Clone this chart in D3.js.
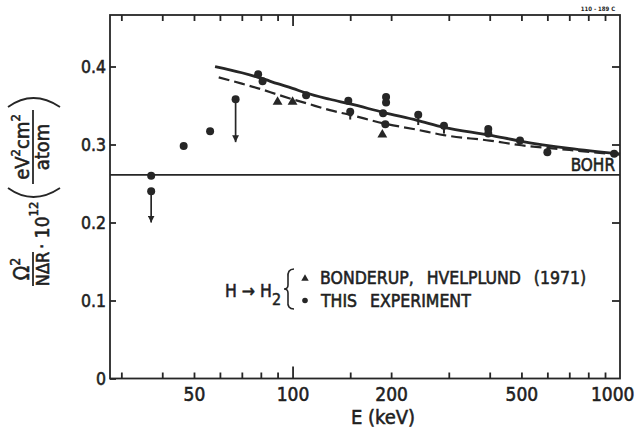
<!DOCTYPE html>
<html>
<head>
<meta charset="utf-8">
<script src="https://cdn.jsdelivr.net/npm/d3@7"></script>
<style>
  html, body { margin: 0; padding: 0; background: #fff; }
  svg text { font-family: "DejaVu Sans Condensed", "DejaVu Sans", sans-serif; font-stretch: condensed; fill: #1f1f1f; stroke: #1f1f1f; stroke-width: 0.55px; }
  .tk line { stroke: #262626; stroke-width: 1.8px; }
</style>
</head>
<body>
<svg id="chart" width="635" height="429"></svg>
<script>
// ---- data ----
const xTickValues = [50, 100, 200, 500, 1000];
const xMinorTicks = [30, 40, 50, 60, 70, 80, 90, 150, 200, 300, 400, 500, 600, 700, 800, 900];
const xMajorTicks = [100];
const yTickValues = [0, 0.1, 0.2, 0.3, 0.4];
const yTickLabels = ["0", "0.1", "0.2", "0.3", "0.4"];

// "THIS EXPERIMENT" points [E keV, value]
const expE =   [37,    37,    46.5,  56,    67,    78.5,  81,    110,   148,   150,   193,   193,   189,   192,   242,   290,   396,   396,   495,   600,   960];
const expVal = [0.260, 0.240, 0.298, 0.317, 0.358, 0.390, 0.381, 0.363, 0.356, 0.342, 0.361, 0.354, 0.340, 0.326, 0.338, 0.324, 0.320, 0.314, 0.305, 0.290, 0.288];

// Bonderup, Hvelplund (1971) triangles
const bonE =   [90,    100,   188];
const bonVal = [0.356, 0.356, 0.314];

// downward arrows (upper-limit) [E, from, to]
const arrowE =    [37,    67];
const arrowFrom = [0.240, 0.358];
const arrowTo =   [0.200, 0.303];

// short vertical bars below points [E, from, to]
const barE =    [150,   242,   290];
const barFrom = [0.342, 0.338, 0.324];
const barTo =   [0.332, 0.325, 0.314];

// solid theory curve
const solidE =   [58,    70,    80,    90,    100,   110,   130,   150,   190,   240,   290,   400,   500,   700,   1000];
const solidVal = [0.400, 0.392, 0.385, 0.378, 0.372, 0.366, 0.358, 0.352, 0.341, 0.331, 0.322, 0.312, 0.304, 0.295, 0.288];

// dashed theory curve
const dashE =   [59.5,  70,    80,    90,    100,   110,   130,   150,   190,   240,   290,   400,   500,   700,   1000];
const dashVal = [0.386, 0.378, 0.371, 0.364, 0.358, 0.353, 0.344, 0.338, 0.327, 0.319, 0.312, 0.305, 0.299, 0.293, 0.287];

const bohrValue = 0.261;

// ---- layout ----
const svg = d3.select("#chart");
const L = 110, R = 620, T = 15, B = 378.5;
const x = d3.scaleLog().domain([27.7, 1000]).range([L, R]);
const y = d3.scaleLinear().domain([0, 0.4]).range([B, 66.5]);

const ink = "#262626";

// frame
svg.append("rect").attr("x", L).attr("y", T).attr("width", R - L).attr("height", B - T)
  .attr("fill", "none").attr("stroke", ink).attr("stroke-width", 1.8);

// inward tick marks via d3 axes
function ticksOnly(g) { g.attr("class", "tk"); g.select(".domain").remove(); g.selectAll("text").remove(); }
svg.append("g").attr("transform", `translate(0,${B})`)
  .call(d3.axisBottom(x).tickValues(xMinorTicks).tickSize(-6).tickFormat("")).call(ticksOnly);
svg.append("g").attr("transform", `translate(0,${B})`)
  .call(d3.axisBottom(x).tickValues(xMajorTicks).tickSize(-12).tickFormat("")).call(ticksOnly);
svg.append("g").attr("transform", `translate(0,${T})`)
  .call(d3.axisTop(x).tickValues(xMinorTicks).tickSize(-6).tickFormat("")).call(ticksOnly);
svg.append("g").attr("transform", `translate(0,${T})`)
  .call(d3.axisTop(x).tickValues(xMajorTicks).tickSize(-11).tickFormat("")).call(ticksOnly);
svg.append("g").attr("transform", `translate(${L},0)`)
  .call(d3.axisLeft(y).tickValues(yTickValues).tickSize(-6).tickFormat("")).call(ticksOnly);
svg.append("g").attr("transform", `translate(${R},0)`)
  .call(d3.axisRight(y).tickValues(yTickValues.filter(v => v > 0)).tickSize(-8).tickFormat("")).call(ticksOnly);

// bottom axis labels
const gxb = svg.append("g").attr("transform", `translate(0,${B})`)
  .call(d3.axisBottom(x).tickValues(xTickValues).tickFormat(d3.format("d")).tickSize(0).tickPadding(9));
gxb.select(".domain").remove();
gxb.selectAll("text").attr("font-size", 19).attr("dy", "0.71em").style("font-family", null)
  .attr("text-anchor", d => d === 1000 ? "end" : "middle").attr("dx", d => d === 1000 ? 14 : 0);

// left axis labels
const gyl = svg.append("g").attr("transform", `translate(${L},0)`)
  .call(d3.axisLeft(y).tickValues(yTickValues).tickFormat((d, i) => yTickLabels[i]).tickSize(0).tickPadding(4));
gyl.select(".domain").remove();
gyl.selectAll("text").attr("font-size", 17.5).style("font-family", null);

// Bohr line
svg.append("line").attr("x1", L).attr("x2", R).attr("y1", y(bohrValue)).attr("y2", y(bohrValue))
  .attr("stroke", ink).attr("stroke-width", 1.8);
svg.append("text").attr("x", R - 5).attr("y", y(bohrValue) - 4).attr("text-anchor", "end")
  .attr("font-size", 17).text("BOHR");

// curves
const line = d3.line().x(d => x(d[0])).y(d => y(d[1])).curve(d3.curveMonotoneX);
svg.append("path").datum(solidE.map((e, i) => [e, solidVal[i]])).attr("d", line)
  .attr("fill", "none").attr("stroke", ink).attr("stroke-width", 2.8);
svg.append("path").datum(dashE.map((e, i) => [e, dashVal[i]])).attr("d", line)
  .attr("fill", "none").attr("stroke", ink).attr("stroke-width", 2.2).attr("stroke-dasharray", "11,5");

// arrow marker
svg.append("defs").append("marker").attr("id", "ah").attr("viewBox", "0 0 10 10")
  .attr("refX", 10).attr("refY", 5).attr("markerWidth", 7).attr("markerHeight", 7)
  .attr("markerUnits", "userSpaceOnUse").attr("orient", "auto")
  .append("path").attr("d", "M0,0 L10,5 L0,10 Z").attr("fill", ink);

arrowE.forEach((e, i) => {
  svg.append("line").attr("x1", x(e)).attr("x2", x(e)).attr("y1", y(arrowFrom[i])).attr("y2", y(arrowTo[i]))
    .attr("stroke", ink).attr("stroke-width", 1.7).attr("marker-end", "url(#ah)");
});
barE.forEach((e, i) => {
  svg.append("line").attr("x1", x(e)).attr("x2", x(e)).attr("y1", y(barFrom[i])).attr("y2", y(barTo[i]))
    .attr("stroke", ink).attr("stroke-width", 2);
});

// points
svg.append("g").selectAll("circle").data(expE).join("circle")
  .attr("cx", d => x(d)).attr("cy", (d, i) => y(expVal[i])).attr("r", 4).attr("fill", ink);

const tri = d3.symbol().type(d3.symbolTriangle).size(42);
svg.append("g").selectAll("path").data(bonE).join("path")
  .attr("transform", (d, i) => `translate(${x(d)},${y(bonVal[i]) + 1})`).attr("d", tri).attr("fill", ink);

// legend
const lg = svg.append("g");
const hText = lg.append("text").attr("x", 225).attr("y", 297).attr("font-size", 17.5);
hText.append("tspan").text("H \u2192 H");
hText.append("tspan").attr("font-size", 16).attr("dy", 8).text("2");
lg.append("path").attr("d", "M294,269 Q287,269 288,278 L288,285 Q288,289 284,289 Q288,289 288,293 L288,301 Q287,309 294,309")
  .attr("fill", "none").attr("stroke", ink).attr("stroke-width", 1.6);
lg.append("path").attr("transform", `translate(305,278.5)`).attr("d", d3.symbol().type(d3.symbolTriangle).size(24)).attr("fill", ink);
lg.append("circle").attr("cx", 305).attr("cy", 300.5).attr("r", 2.8).attr("fill", ink);
lg.append("text").attr("x", 320).attr("y", 284).attr("font-size", 17.5).attr("word-spacing", 8).text("BONDERUP, HVELPLUND (1971)");
lg.append("text").attr("x", 321).attr("y", 307).attr("font-size", 17.5).attr("word-spacing", 8).text("THIS EXPERIMENT");

// x axis title
svg.append("text").attr("x", 383).attr("y", 424).attr("text-anchor", "middle").attr("font-size", 20).text("E (keV)");

// tiny figure id
svg.append("text").attr("x", 598).attr("y", 11).attr("text-anchor", "middle").attr("font-size", 6)
  .attr("font-weight", "bold").style("stroke-width", 0).text("110 - 189 C");

// y axis title (rotated)
const yl = svg.append("g").attr("transform", "translate(33,193) rotate(-90)");
const om = yl.append("text").attr("x", -76).attr("y", -4).attr("text-anchor", "middle").attr("font-size", 21);
om.append("tspan").text("\u03A9");
om.append("tspan").attr("font-size", 14).attr("dy", -9).text("2");
yl.append("line").attr("x1", -93).attr("x2", -59).attr("y1", 0).attr("y2", 0).attr("stroke", ink).attr("stroke-width", 1.8);
yl.append("text").attr("x", -76).attr("y", 16).attr("text-anchor", "middle").attr("font-size", 18).text("N\u0394R");
const ten = yl.append("text").attr("x", -56).attr("y", 16).attr("font-size", 19);
ten.append("tspan").text("\u00B7 10");
ten.append("tspan").attr("font-size", 13).attr("dy", -11).text("12");
yl.append("path").attr("d", "M5,-25 Q-13,0 5,27").attr("fill", "none").attr("stroke", ink).attr("stroke-width", 1.8);
const ev = yl.append("text").attr("x", 46).attr("y", -4).attr("text-anchor", "middle").attr("font-size", 20);
ev.append("tspan").text("eV");
ev.append("tspan").attr("font-size", 13).attr("dy", -9).text("2");
ev.append("tspan").attr("dy", 9).text("cm");
ev.append("tspan").attr("font-size", 13).attr("dy", -9).text("2");
yl.append("line").attr("x1", 9).attr("x2", 83).attr("y1", 0).attr("y2", 0).attr("stroke", ink).attr("stroke-width", 1.8);
yl.append("text").attr("x", 46).attr("y", 16).attr("text-anchor", "middle").attr("font-size", 20).text("atom");
yl.append("path").attr("d", "M86,-25 Q104,0 86,27").attr("fill", "none").attr("stroke", ink).attr("stroke-width", 1.8);
</script>
</body>
</html>
